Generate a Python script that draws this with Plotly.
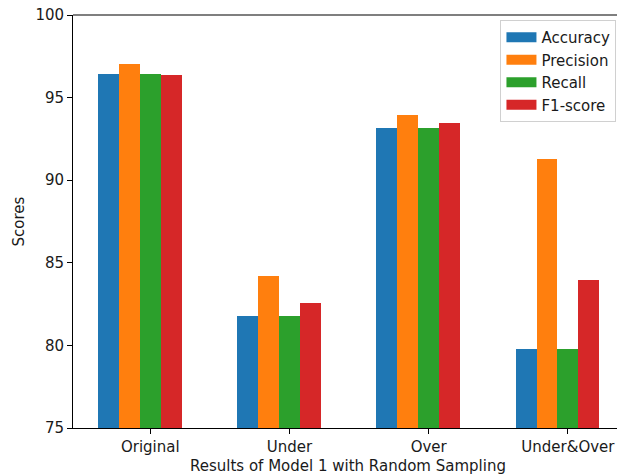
import plotly.graph_objects as go

# Scores (%) of Model 1 under each random-sampling strategy
categories = ["Original", "Under", "Over", "Under&Over"]
metrics = ["Accuracy", "Precision", "Recall", "F1-score"]
accuracy = [96.42, 81.78, 93.18, 79.76]
precision = [97.02, 84.20, 93.92, 91.30]
recall = [96.42, 81.78, 93.18, 79.76]
f1_score = [96.34, 82.59, 93.44, 83.94]

series = [accuracy, precision, recall, f1_score]
colors = ["#1f77b4", "#ff7f0e", "#2ca02c", "#d62728"]

bar_width = 0.15
base = list(range(len(categories)))

FONT = "DejaVu Sans"
FS = 15
TXT = "#1a1a1a"

fig = go.Figure()
for k, (name, vals, col) in enumerate(zip(metrics, series, colors)):
    xs = [b + k * bar_width for b in base]
    fig.add_trace(go.Bar(
        x=xs, y=[v - 75 for v in vals], base=75, width=bar_width,
        marker=dict(color=col, line=dict(width=0)),
        name=name, showlegend=False,
        hovertemplate=name + ": %{customdata}<extra></extra>",
        customdata=vals,
    ))
    # wide patch-like legend entries
    fig.add_trace(go.Scatter(
        x=[None], y=[None], mode="lines", name=name,
        line=dict(color=col, width=10),
    ))

tick_pos = [b + 2 * bar_width for b in base]

fig.update_layout(
    width=617, height=475,
    margin=dict(l=72.7, r=0, t=14.5, b=47),
    paper_bgcolor="white", plot_bgcolor="white",
    font=dict(family=FONT, size=FS, color=TXT),
    barmode="overlay",
    bargap=0,
    showlegend=True,
    legend=dict(
        x=0.999, xanchor="right", y=0.988, yanchor="top",
        bgcolor="rgba(255,255,255,0.8)", bordercolor="#d0d0d0", borderwidth=1,
        font=dict(family=FONT, size=FS, color=TXT),
        itemwidth=30, tracegroupgap=0,
    ),
    xaxis=dict(
        range=[-0.255, 3.6526],
        tickmode="array", tickvals=tick_pos, ticktext=categories,
        showgrid=False, zeroline=False,
        showline=True, linecolor="black", linewidth=1.1,
        ticks="outside", ticklen=4.9, tickwidth=1.1, tickcolor="black",
        tickfont=dict(family=FONT, size=FS, color=TXT),
    ),
    yaxis=dict(
        range=[75, 100],
        tickmode="array", tickvals=[75, 80, 85, 90, 95, 100],
        showgrid=False, zeroline=False,
        showline=True, linecolor="black", linewidth=1.1,
        ticks="outside", ticklen=4.9, tickwidth=1.1, tickcolor="black",
        tickfont=dict(family=FONT, size=FS, color=TXT),
    ),
    shapes=[dict(type="line", xref="paper", yref="paper", x0=0, x1=1, y0=1, y1=1,
                 line=dict(color="black", width=1.1))],
    annotations=[
        dict(text="Results of Model 1 with Random Sampling", xref="paper", yref="paper",
             x=(348 - 72.7) / (617 - 72.7), y=0, yanchor="middle", xanchor="center",
             yshift=-38, showarrow=False, font=dict(family=FONT, size=FS, color=TXT)),
        dict(text="Scores", xref="paper", yref="paper", x=0, y=0.5,
             xanchor="center", yanchor="middle", xshift=-55, textangle=-90,
             showarrow=False, font=dict(family=FONT, size=FS, color=TXT)),
    ],
)

fig.write_html("out.html")
